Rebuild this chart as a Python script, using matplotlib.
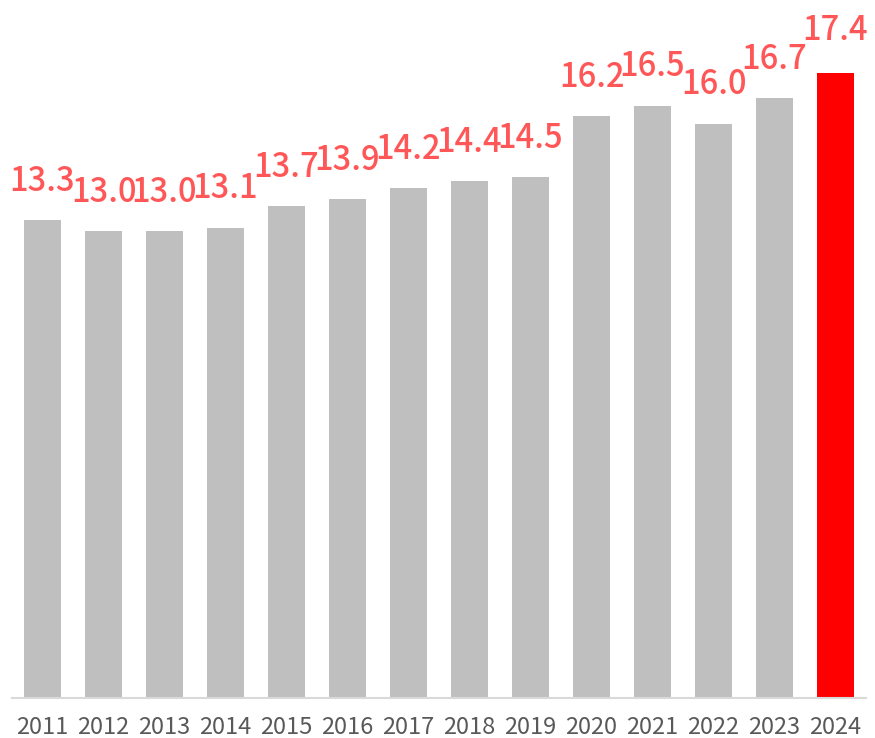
import matplotlib
matplotlib.use('Agg')
import matplotlib.pyplot as plt

plt.rcParams['font.family'] = ['Noto Sans CJK JP', 'DejaVu Sans']

years = ['2011', '2012', '2013', '2014', '2015', '2016', '2017',
         '2018', '2019', '2020', '2021', '2022', '2023', '2024']
values = [13.3, 13.0, 13.0, 13.1, 13.7, 13.9, 14.2,
          14.4, 14.5, 16.2, 16.5, 16.0, 16.7, 17.4]

colors = ['#BFBFBF'] * (len(years) - 1) + ['#FF0000']

fig = plt.figure(figsize=(8.75, 7.38), dpi=100)
ax = fig.add_axes([12 / 875, 40 / 738, 854 / 875, 698 / 738])

x = range(len(years))
bars = ax.bar(x, values, width=0.62, color=colors, zorder=2)

for i, (b, v) in enumerate(zip(bars, values)):
    off = 31 if i == len(values) - 1 else 28
    ax.annotate(f'{v:.1f}', xy=(b.get_x() + b.get_width() / 2, v),
                xytext=(0, off), textcoords='offset points',
                ha='center', va='center', fontsize=23.5,
                color='#FF5757', fontweight='medium')

ax.set_xlim(-0.5, len(years) - 0.5)
ax.set_ylim(0, 19.44)
ax.set_xticks(list(x))
ax.set_xticklabels(years, fontsize=17, color='#595959')
ax.tick_params(axis='x', length=0, pad=13)
ax.set_yticks([])
for s in ['top', 'right', 'left']:
    ax.spines[s].set_visible(False)
ax.spines['bottom'].set_color('#D9D9D9')
ax.spines['bottom'].set_linewidth(1.5)

fig.savefig('out.png', dpi=100)
